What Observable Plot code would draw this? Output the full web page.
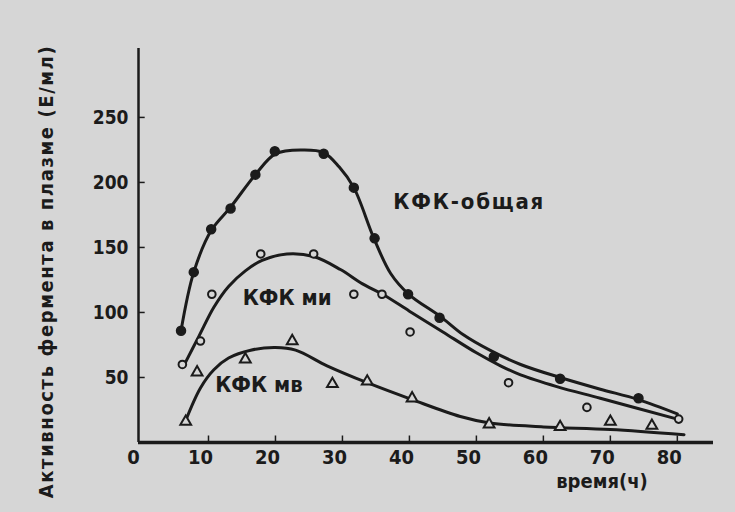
<!DOCTYPE html>
<html><head><meta charset="utf-8">
<script src="https://cdn.jsdelivr.net/npm/d3@7"></script>
<script src="https://cdn.jsdelivr.net/npm/@observablehq/plot@0.6"></script>
<style>
html,body{margin:0;padding:0;background:#d6d6d6;}
#chart svg{display:block;}
.ylab text{letter-spacing:1.6px;}
.total-lab text{letter-spacing:1.8px;}
</style></head><body><div id="chart"></div>
<script>
// КФК-общая (filled circles)
const totalHours = [5.9, 7.8, 10.4, 13.3, 17, 19.9, 27.2, 31.7, 34.8, 39.8, 44.5, 52.6, 62.5, 74.2];
const totalValues = [86, 131, 164, 180, 206, 224, 222, 196, 157, 114, 96, 66, 49, 34];
const totalCurveHours = [5.9, 7.8, 10.4, 13.3, 17, 20, 24, 27.2, 29.5, 31.7, 34.7, 37.2, 39.9, 44.6, 48, 52, 56.6, 62.5, 68.5, 74.2, 80];
const totalCurveValues = [86, 131, 163, 181, 206, 222, 225, 223, 212, 196, 157, 130, 114, 97, 83, 71, 60, 50, 41, 33, 22];

// КФК ми (open circles)
const miHours = [6.1, 8.8, 10.5, 17.8, 25.7, 31.7, 35.9, 40.1, 54.8, 66.5, 80.2];
const miValues = [60, 78, 114, 145, 145, 114, 114, 85, 46, 27, 18];
const miCurveHours = [6.2, 8.6, 10.8, 13, 15.5, 18, 21.7, 25.7, 29.7, 33, 36, 40, 45, 50, 53.6, 56.6, 62, 68.5, 80];
const miCurveValues = [58, 82, 104, 120, 132, 140, 145, 143, 133, 122, 114, 101, 85, 69, 59, 52, 43, 34, 18];

// КФК мв (open triangles)
const mbHours = [6.6, 8.3, 15.5, 22.5, 28.5, 33.7, 40.4, 51.9, 62.5, 70, 76.2];
const mbValues = [16, 54, 64, 78, 45, 47, 34, 14, 12, 16, 13];
const mbCurveHours = [6.6, 8.8, 10.8, 13, 16.3, 20, 23, 27.7, 33.7, 40.4, 47.6, 52, 60, 70, 81];
const mbCurveValues = [17, 42, 56, 65, 71, 73, 71, 59, 46, 33, 20, 15, 12, 10, 6];

const yTicks = [50, 100, 150, 200, 250];
const xTicks = [10, 20, 30, 40, 50, 60, 70, 80];
const xTickLabels = [0, 10, 20, 30, 40, 50, 60, 70, 80];

const yLabel = "Активность фермента в плазме (Е/мл)";
const xLabel = "время(ч)";
const seriesLabels = ["КФК-общая", "КФК ми", "КФК мв"];

const X0 = -0.45, X1 = 85.4, Y1 = 303;
const ink = "#1b1b1b";
const bg = "#d6d6d6";
const font = "'DejaVu Sans Condensed', 'DejaVu Sans', sans-serif";

const pts = (xs, ys) => xs.map((x, i) => ({x, y: ys[i]}));

const chart = Plot.plot({
  width: 735, height: 512,
  marginLeft: 138, marginRight: 22, marginTop: 48, marginBottom: 70,
  x: {domain: [X0, X1]},
  y: {domain: [0, Y1]},
  style: {background: "transparent", fontFamily: font, color: ink},
  marks: [
    Plot.ruleX([X0], {stroke: ink, strokeWidth: 2.5}),
    Plot.ruleY([0], {stroke: ink, strokeWidth: 3.5}),
    Plot.ruleY(yTicks, {y: d => d, x1: X0, x2: X0 + 1.0, stroke: ink, strokeWidth: 1.5}),
    Plot.ruleX(xTicks, {x: d => d, y1: 0, y2: 5, stroke: ink, strokeWidth: 1.5}),
    Plot.axisY(yTicks, {tickSize: 0, tickPadding: 10, fontSize: 19, fontWeight: "bold", label: null}),
    Plot.axisX(xTickLabels, {tickSize: 0, tickPadding: 7, dx: -8, fontSize: 20, fontWeight: "bold", label: null}),
    Plot.line(pts(totalCurveHours, totalCurveValues), {x: "x", y: "y", curve: "catmull-rom", stroke: ink, strokeWidth: 3}),
    Plot.line(pts(miCurveHours, miCurveValues), {x: "x", y: "y", curve: "catmull-rom", stroke: ink, strokeWidth: 3}),
    Plot.line(pts(mbCurveHours, mbCurveValues), {x: "x", y: "y", curve: "catmull-rom", stroke: ink, strokeWidth: 3}),
    Plot.dot(pts(totalHours, totalValues), {x: "x", y: "y", r: 4.5, fill: ink, stroke: ink}),
    Plot.dot(pts(miHours, miValues), {x: "x", y: "y", r: 3.8, fill: bg, stroke: ink, strokeWidth: 2}),
    Plot.dot(pts(mbHours, mbValues), {x: "x", y: "y", r: 4, symbol: "triangle", fill: bg, stroke: ink, strokeWidth: 2}),
    Plot.text([seriesLabels[0]], {x: 37.6, y: 185, textAnchor: "start", fontSize: 22, fontWeight: "bold", fill: ink, className: "total-lab"}),
    Plot.text([seriesLabels[1]], {x: 15.1, y: 111, textAnchor: "start", fontSize: 22, fontWeight: "bold", fill: ink}),
    Plot.text([seriesLabels[2]], {x: 11, y: 44, textAnchor: "start", fontSize: 22, fontWeight: "bold", fill: ink}),
    Plot.text([xLabel], {frameAnchor: "bottom", dx: 176, dy: 45, fontSize: 20, fontWeight: "bold", fill: ink}),
    Plot.text([yLabel], {frameAnchor: "left", textAnchor: "middle", rotate: -90, dx: -92, dy: 26, fontSize: 20, fontWeight: "bold", fill: ink, className: "ylab"})
  ]
});
document.getElementById("chart").append(chart);
</script>
</body></html>
